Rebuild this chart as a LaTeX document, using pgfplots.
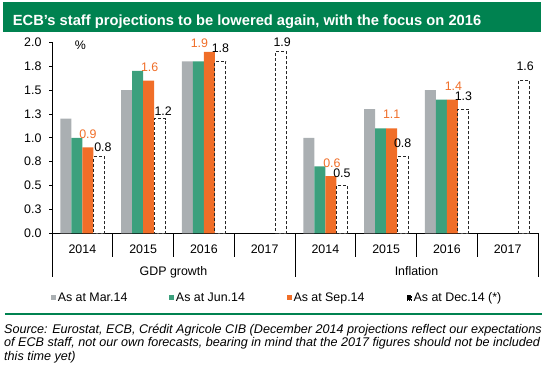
\documentclass[border=0pt]{standalone}
\usepackage{pgfplots}
\pgfplotsset{compat=1.18}
\usepackage{fontspec}
\setmainfont{Liberation Sans}
\definecolor{cgrey}{RGB}{170,175,178}
\definecolor{cgreen}{RGB}{60,160,125}
\definecolor{corange}{RGB}{240,110,40}
\definecolor{ctitle}{RGB}{0,130,80}
\newcommand{\cf}{\fontsize{12.4bp}{14bp}\selectfont}
\begin{document}
\begin{tikzpicture}[x=1bp,y=1bp]
\fill[ctitle] (-49.3,231.6) rectangle (489,201.8);
\node[anchor=base west,inner sep=0pt,text=white,font=\fontsize{14.7bp}{16bp}\selectfont\bfseries] at (-39.3,208.3) {ECB's staff projections to be lowered again, with the focus on 2016};
\begin{axis}[
  at={(0,0)}, anchor=south west,
  scale only axis, width=486bp, height=191bp,
  xmin=-0.5, xmax=7.5, ymin=0, ymax=2,
  axis x line*=bottom, axis y line*=left,
  axis line style={-, line width=0.8bp, black},
  ybar=0pt, bar width=11bp,
  clip=false,
  /pgf/number format/assume math mode=true,
  tick align=outside, major tick length=3bp,
  xtick={0,1,2,3,4,5,6,7},
  xticklabels={2014,2015,2016,2017,2014,2015,2016,2017},
  xtick style={draw=none},
  xticklabel style={anchor=base, yshift=-17bp, font=\cf},
  ytick={0,0.25,0.5,0.75,1,1.25,1.5,1.75,2},
  yticklabels={0.0,0.3,0.5,0.8,1.0,1.3,1.5,1.8,2.0},
  yticklabel style={font=\cf, xshift=-4bp},
  ytick style={line width=0.8bp, black},
  legend columns=4,
  legend style={at={(axis description cs:-0.00206,-0.3372)}, anchor=west, draw=none, fill=none, inner sep=0pt, font=\cf, /tikz/every even column/.append style={column sep=40bp}},
  legend cell align=left,
]
\addplot[fill=cgrey, draw=none, legend image code/.code={\fill[cgrey] (0bp,-2.3bp) rectangle (4.6bp,2.3bp);}] table {
x y
0 1.2
1 1.5
2 1.8
4 1.0
5 1.3
6 1.5
};
\addlegendentry{As at Mar.14}
\addplot[fill=cgreen, draw=none, legend image code/.code={\fill[cgreen] (0bp,-2.3bp) rectangle (4.6bp,2.3bp);}] table {
x y
0 1.0
1 1.7
2 1.8
4 0.7
5 1.1
6 1.4
};
\addlegendentry{As at Jun.14}
\addplot[fill=corange, draw=none,
  legend image code/.code={\fill[corange] (0bp,-2.3bp) rectangle (4.6bp,2.3bp);},
  visualization depends on={value \thisrow{dx}\as\dx},
  visualization depends on={value \thisrow{dy}\as\dy},
  nodes near coords={\pgfmathprintnumber[fixed,fixed zerofill,precision=1]{\pgfplotspointmeta}},
  every node near coord/.append style={anchor=center, xshift=\dx bp, yshift=\dy bp, font=\cf, text=corange, inner sep=0pt}] table {
x y dx dy
0 0.9 0 13
1 1.6 1 13
2 1.9 -10 8.4
4 0.6 1 12.4
5 1.1 0 13.7
6 1.4 1 13.7
};
\addlegendentry{As at Sep.14}
\addplot[fill=white, draw=black!85, line width=1.1bp, dash pattern=on 3bp off 2bp,
  legend image code/.code={\draw[black, line width=0.6bp, dash pattern=on 1.5bp off 1bp] (0bp,-2.3bp) rectangle (4.6bp,2.3bp);},
  visualization depends on={value \thisrow{dx}\as\dx},
  visualization depends on={value \thisrow{dy}\as\dy},
  nodes near coords={\pgfmathprintnumber[fixed,fixed zerofill,precision=1]{\pgfplotspointmeta}},
  every node near coord/.append style={anchor=center, xshift=\dx bp, yshift=\dy bp, font=\cf, text=black, inner sep=0pt, solid}] table {
x y dx dy
0 0.8 4 10
1 1.2 3.5 7.7
2 1.8 0 13.3
3 1.9 1 9.3
4 0.5 0 12.3
5 0.8 0 13.4
6 1.3 0 13.3
7 1.6 1 14
};
\addlegendentry{As at Dec.14 (*)}
\end{axis}
\node[font=\cf,anchor=center] at (28.5,188.3) {\%};
\foreach \k in {1,2,3,5,6,7} \draw[line width=0.8bp] (60.75*\k,0) -- (60.75*\k,-23.7);
\foreach \k in {0,4,8} \draw[line width=0.8bp] (60.75*\k,0) -- (60.75*\k,-43.7);
\node[font=\cf,anchor=base] at (121.5,-41.7) {GDP growth};
\node[font=\cf,anchor=base] at (364.5,-41.7) {Inflation};
\draw[ctitle, line width=1.8bp] (-47,-81) -- (490,-81);
\begin{scope}[every node/.style={anchor=base west, inner sep=0pt, font=\fontsize{12.6bp}{13bp}\selectfont\itshape}]
\node at (-48,-99.7) {Source: Eurostat, ECB, Crédit Agricole CIB (December 2014 projections reflect our expectations};
\node at (-48,-113.2) {of ECB staff, not our own forecasts, bearing in mind that the 2017 figures should not be included};
\node at (-48,-126.7) {this time yet)};
\end{scope}
\pgfresetboundingbox
\useasboundingbox (-52,-131.7) rectangle (498,233.3);
\end{tikzpicture}
\end{document}
